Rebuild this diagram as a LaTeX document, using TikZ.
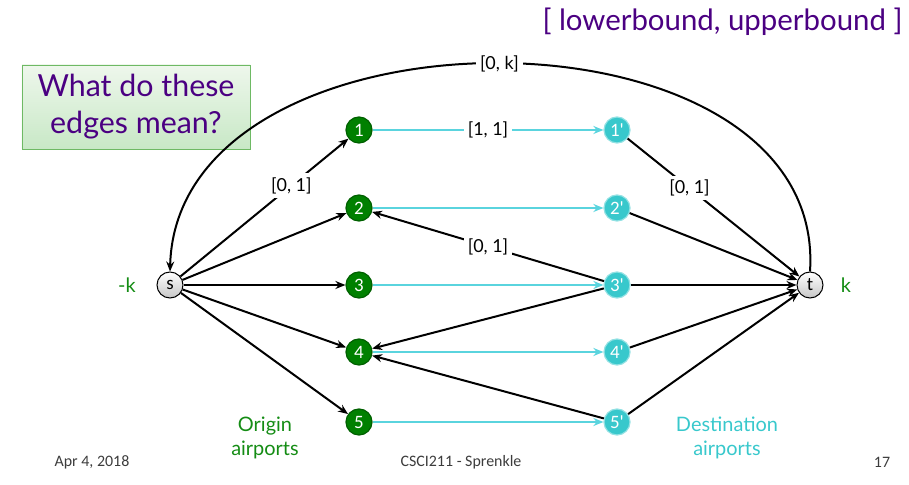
\documentclass[tikz,border=0pt]{standalone}
\usepackage{fontspec}
\setmainfont{Lato}
\newfontfamily\calib{Carlito}
\usetikzlibrary{arrows.meta}

\definecolor{slidepurple}{RGB}{75,0,130}
\definecolor{nodegreen}{RGB}{0,128,0}
\definecolor{nodecyan}{RGB}{56,200,204}
\definecolor{edgecyan}{RGB}{90,212,222}
\definecolor{labelgreen}{RGB}{20,140,20}
\definecolor{footgray}{RGB}{60,60,60}
\definecolor{boxtop}{RGB}{238,247,236}
\definecolor{boxbottom}{RGB}{200,232,198}
\definecolor{boxedge}{RGB}{110,185,100}

\begin{document}
\begin{tikzpicture}[x=1bp,y=-1bp,
  vtx/.style={circle,minimum size=26bp,inner sep=0pt,font=\calib\fontsize{19}{19}\selectfont},
  origin/.style={vtx,fill=nodegreen,draw=nodegreen!75!black,text=white,line width=1.2bp},
  dest/.style={vtx,fill=nodecyan,draw=nodecyan!55!white,text=white,line width=1.2bp},
  term/.style={vtx,draw=black,top color=white,bottom color=black!22,line width=1bp,text=black},
  flow/.style={-{Stealth[length=10bp,width=8bp]},line width=2bp,black},
  pair/.style={-{Stealth[length=10bp,width=8bp]},line width=2.6bp,edgecyan},
  bound/.style={fill=white,inner sep=4bp,font=\fontsize{18}{18}\selectfont},
  side/.style={font=\fontsize{20}{24}\selectfont,align=center},
  foot/.style={text=footgray,font=\calib\fontsize{16}{16}\selectfont}
]
\useasboundingbox (0,0) rectangle (909,485);

% heading
\node[anchor=east,text=slidepurple,font=\fontsize{29.5}{29.5}\selectfont] (head) at (906,22) {[ lowerbound, upperbound ]};

% question box
\node[draw=boxedge,line width=0.8bp,top color=boxtop,bottom color=boxbottom,
      minimum width=228bp,minimum height=84bp,align=center,text=slidepurple,
      font=\fontsize{30.5}{37}\selectfont] (question) at (136,107) {What do these\\edges mean?};

% source and sink
\node[term] (s) at (170,285) {s};
\node[term] (t) at (810,285) {t};

% origin airports
\node[origin] (o1) at (359,130) {1};
\node[origin] (o2) at (359,208) {2};
\node[origin] (o3) at (359,285) {3};
\node[origin] (o4) at (359,352) {4};
\node[origin] (o5) at (359,422) {5};

% destination airports
\node[dest] (d1) at (617,130) {1'};
\node[dest] (d2) at (617,208) {2'};
\node[dest] (d3) at (617,285) {3'};
\node[dest] (d4) at (617,352) {4'};
\node[dest] (d5) at (617,422) {5'};

% flights
\draw[pair] (o1) -- node[bound,text=black] {[1, 1]} (d1);
\draw[pair] (o2) -- (d2);
\draw[pair] (o3) -- (d3);
\draw[pair] (o4) -- (d4);
\draw[pair] (o5) -- (d5);

% source to origins
\draw[flow] (s) -- node[bound,pos=0.66] {[0, 1]} (o1);
\draw[flow] (s) -- (o2);
\draw[flow] (s) -- (o3);
\draw[flow] (s) -- (o4);
\draw[flow] (s) -- (o5);

% destinations to sink
\draw[flow] (d1) -- node[bound,pos=0.36] {[0, 1]} (t);
\draw[flow] (d2) -- (t);
\draw[flow] (d3) -- (t);
\draw[flow] (d4) -- (t);
\draw[flow] (d5) -- (t);

% connections between flights
\draw[flow] (d3) -- node[bound] {[0, 1]} (o2);
\draw[flow] (d3) -- (o4);
\draw[flow] (d5) -- (o4);

% circulation edge from sink back to source
\draw[flow] (t.north) .. controls +(18,-277) and +(7,-277) .. node[bound,pos=0.5] {[0, k]} (s.north);

% demands
\node[text=labelgreen,font=\fontsize{20}{20}\selectfont] (dems) at (127,285) {-k};
\node[text=labelgreen,font=\fontsize{20}{20}\selectfont] (demt) at (846,285) {k};

% group captions
\node[side,text=labelgreen] (orig) at (265,438) {Origin\\airports};
\node[side,text=nodecyan] (dest) at (727,438) {Destination\\airports};

% footer
\node[foot] (date) at (92,462) {Apr 4, 2018};
\node[foot] (course) at (461,462) {CSCI211 - Sprenkle};
\node[foot] (page) at (882,462) {17};
\end{tikzpicture}
\end{document}
